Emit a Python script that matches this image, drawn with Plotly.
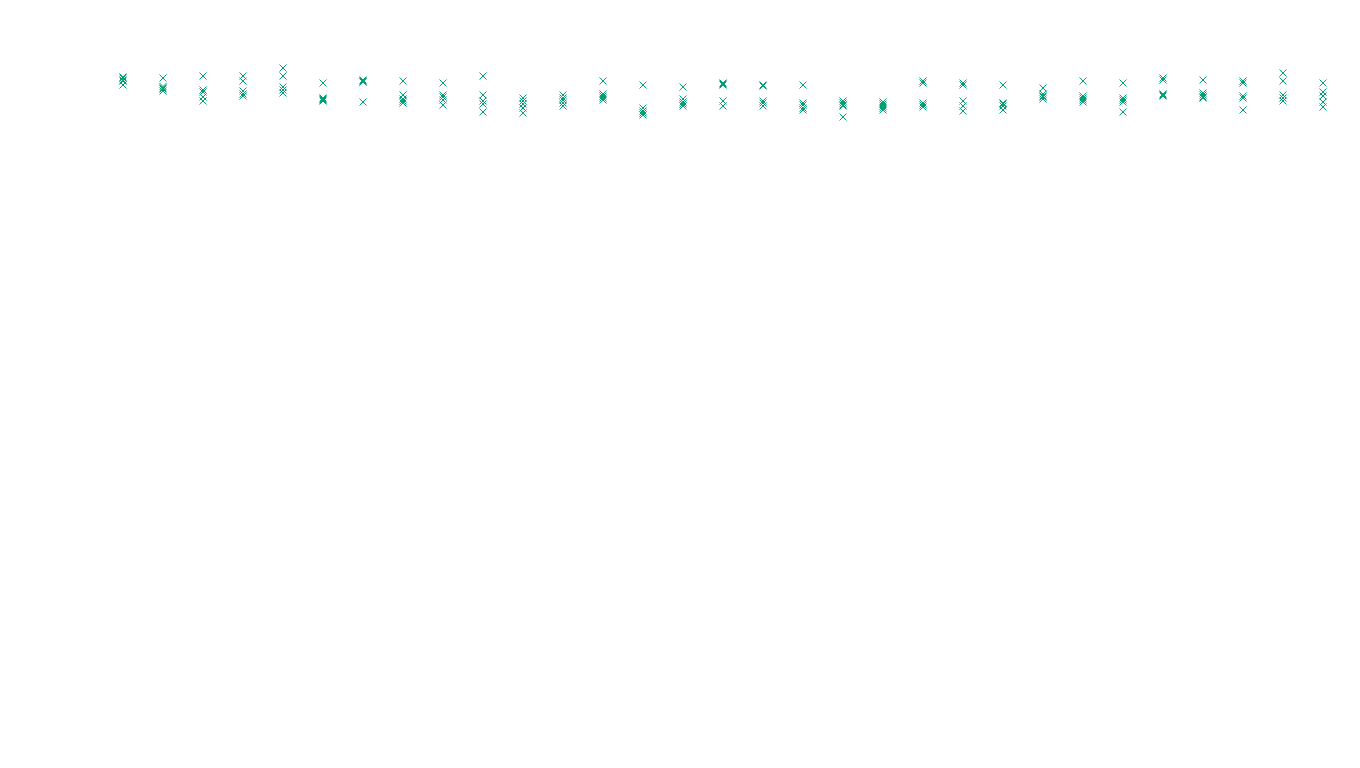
import plotly.graph_objects as go

categories = list(range(1, 32))

run1 = [691, 690, 692, 692, 700, 685, 688, 687, 685, 692, 670, 673, 687, 683, 681, 685,
        683, 683, 667, 666, 687, 685, 683, 680, 687, 685, 690, 688, 687, 695, 685]
run2 = [690, 681.5, 678, 687, 692, 670, 687, 673, 673, 673, 667, 670, 674, 660, 669, 684,
        682, 665, 665, 664, 685, 683, 665, 674, 672, 670, 688, 675, 685, 687, 676]
run3 = [688, 680, 676, 677, 681, 669, 686, 669, 671, 667, 664, 668, 672, 657, 666, 683,
        667, 663, 663, 662, 665, 667, 664, 672, 670, 668, 674, 673, 672, 673, 672]
run4 = [687, 679, 671, 674, 678, 668, 686, 667, 668, 664, 660, 665, 670, 655, 664, 667,
        665, 660, 662, 660, 663, 662, 662, 671, 668, 666, 673, 671, 670, 670, 666]
run5 = [683, 677, 667, 672, 675, 667, 666, 665, 663, 656, 655, 662, 668, 653, 662, 662,
        662, 658, 651, 658, 661, 657, 658, 669, 666, 656, 672, 670, 658, 667, 661]

xs, ys = [], []
for series in (run1, run2, run3, run4, run5):
    xs.extend(categories)
    ys.extend(series)

fig = go.Figure(go.Scatter(
    x=xs, y=ys, mode="markers",
    marker=dict(symbol="x-thin", size=7, line=dict(width=1, color="#00A275"), color="#00A275"),
    showlegend=False,
))

fig.update_layout(
    width=1360, height=768,
    margin=dict(l=103, r=17, t=0, b=0),
    paper_bgcolor="white", plot_bgcolor="white",
    xaxis=dict(range=[0.5, 31.5], visible=False),
    yaxis=dict(range=[0, 768], visible=False),
)

fig.write_html("out.html")
